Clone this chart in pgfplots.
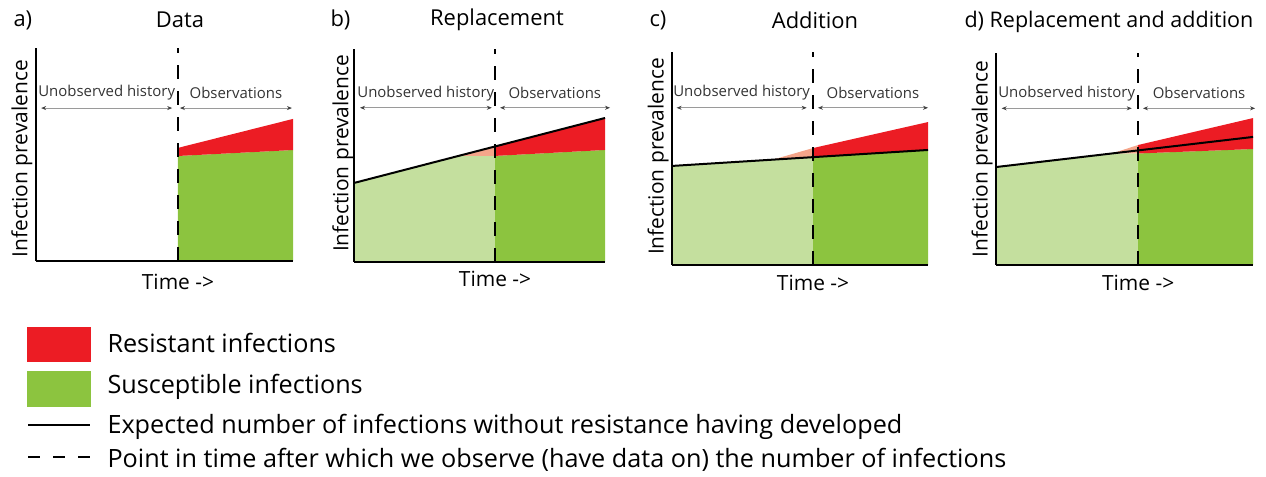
\documentclass[border=0pt]{standalone}
\usepackage{fontspec}
\setmainfont{Open Sans}
\usepackage{pgfplots}
\pgfplotsset{compat=1.18}
\usetikzlibrary{arrows.meta,calc}
\definecolor{resred}{HTML}{EC1C24}
\definecolor{susgreen}{HTML}{8CC43F}
\definecolor{lightgreen}{HTML}{C4DF9E}
\definecolor{salmon}{HTML}{F5A58A}
\definecolor{arrgray}{HTML}{9A9A9A}
\pgfplotsset{
  panel/.style={scale only axis, anchor=south west,
    axis x line=bottom, axis y line=left,
    xmin=0, xmax=100, ymin=0, ymax=100,
    xtick=\empty, ytick=\empty,
    axis line style={line width=2bp, -},
    clip=false, axis on top},
}
\tikzset{
  obsdash/.style={black, line width=2bp, dash pattern=on 14bp off 12bp},
  expline/.style={black, line width=2bp},
  histarrow/.style={arrgray, line width=0.8bp,
    {Stealth[length=5bp,width=4bp,black!75]}-{Stealth[length=5bp,width=4bp,black!75]}},
}
\newcommand{\lblfont}{\fontsize{15}{17}\selectfont}
\newcommand{\axfont}{\fontsize{21}{23}\selectfont}
\newcommand{\ttlfont}{\fontsize{22}{24}\selectfont}
\newcommand{\legfont}{\fontsize{25.3}{28}\selectfont}
\begin{document}
\begin{tikzpicture}[x=1bp,y=1bp]
\useasboundingbox (0,0) rectangle (1266,477);
% ---------- a) Data
\begin{axis}[panel, at={(36bp,216bp)}, width=257bp, height=213bp]
\addplot[fill=susgreen, draw=none] coordinates {(55.25,0)(55.25,49.3)(100,52.1)(100,0)} -- cycle;
\addplot[fill=resred, draw=none] coordinates {(55.25,49.3)(100,52.1)(100,66.7)(55.25,53.1)} -- cycle;
\addplot[obsdash] coordinates {(55.25,0)(55.25,100)};
\draw[histarrow] (axis cs:2,71.8) -- (axis cs:53,71.8);
\draw[histarrow] (axis cs:56,71.8) -- (axis cs:99.6,71.8);
\node[font=\lblfont, text=black!80] at (axis cs:27.5,78.9) {Unobserved history};
\node[font=\lblfont, text=black!80] at (axis cs:77.8,78.9) {Observations};
\node[font=\axfont, rotate=90] at ($(rel axis cs:0,0.48)+(-14bp,0)$) {Infection prevalence};
\node[font=\axfont] at ($(axis cs:55.25,0)+(0,-21bp)$) {Time ->};
\end{axis}
% ---------- b) Replacement
\begin{axis}[panel, at={(354bp,215bp)}, width=251bp, height=213bp]
\addplot[fill=lightgreen, draw=none] coordinates {(0,0)(0,37.1)(41.6,49.8)(56.2,49.8)(56.2,0)} -- cycle;
\addplot[fill=susgreen, draw=none] coordinates {(56.2,0)(56.2,49.8)(100,52.6)(100,0)} -- cycle;
\addplot[fill=salmon, draw=none] coordinates {(41.6,49.8)(56.2,54.2)(56.2,49.8)} -- cycle;
\addplot[fill=resred, draw=none] coordinates {(56.2,49.8)(100,52.6)(100,67.6)(56.2,54.2)} -- cycle;
\addplot[expline] coordinates {(0,37.1)(100,67.6)};
\addplot[obsdash] coordinates {(56.2,0)(56.2,100)};
\draw[histarrow] (axis cs:2.4,72.4) -- (axis cs:54.9,72.4);
\draw[histarrow] (axis cs:58.2,72.4) -- (axis cs:102,72.4);
\node[font=\lblfont, text=black!80] at (axis cs:28.6,79.2) {Unobserved history};
\node[font=\lblfont, text=black!80] at (axis cs:80,79.2) {Observations};
\node[font=\axfont, rotate=90] at ($(rel axis cs:0,0.51)+(-11bp,0)$) {Infection prevalence};
\node[font=\axfont] at ($(axis cs:56.2,0)+(0,-17bp)$) {Time ->};
\end{axis}
% ---------- c) Addition
\begin{axis}[panel, at={(672bp,212bp)}, width=256bp, height=213bp]
\addplot[fill=lightgreen, draw=none] coordinates {(0,0)(0,46.5)(55.1,50.6)(55.1,0)} -- cycle;
\addplot[fill=susgreen, draw=none] coordinates {(55.1,0)(55.1,50.6)(100,54.0)(100,0)} -- cycle;
\addplot[fill=salmon, draw=none] coordinates {(39.5,49.5)(55.1,54.9)(55.1,50.6)} -- cycle;
\addplot[fill=resred, draw=none] coordinates {(55.1,50.6)(100,54.0)(100,67.1)(55.1,54.9)} -- cycle;
\addplot[expline] coordinates {(0,46.5)(100,54.0)};
\addplot[obsdash] coordinates {(55.1,0)(55.1,100)};
\draw[histarrow] (axis cs:1.8,73.8) -- (axis cs:52.6,73.8);
\draw[histarrow] (axis cs:57,73.8) -- (axis cs:100,73.8);
\node[font=\lblfont, text=black!80] at (axis cs:27.2,80.8) {Unobserved history};
\node[font=\lblfont, text=black!80] at (axis cs:78.5,80.8) {Observations};
\node[font=\axfont, rotate=90] at ($(rel axis cs:0,0.51)+(-14bp,0)$) {Infection prevalence};
\node[font=\axfont] at ($(axis cs:55.1,0)+(0,-18bp)$) {Time ->};
\end{axis}
% ---------- d) Replacement and addition
\begin{axis}[panel, at={(996bp,212bp)}, width=257bp, height=212bp]
\addplot[fill=lightgreen, draw=none] coordinates {(0,0)(0,46.2)(45.1,52.6)(55.3,52.6)(55.3,0)} -- cycle;
\addplot[fill=susgreen, draw=none] coordinates {(55.3,0)(55.3,52.6)(100,54.7)(100,0)} -- cycle;
\addplot[fill=salmon, draw=none] coordinates {(45.1,52.6)(55.3,56.6)(55.3,52.6)} -- cycle;
\addplot[fill=resred, draw=none] coordinates {(55.3,52.6)(100,54.7)(100,69.3)(55.3,56.6)} -- cycle;
\addplot[expline] coordinates {(0,46.2)(100,60.4)};
\addplot[obsdash] coordinates {(55.3,0)(55.3,100)};
\draw[histarrow] (axis cs:2.2,73.9) -- (axis cs:52.8,73.9);
\draw[histarrow] (axis cs:57.2,73.9) -- (axis cs:100.8,73.9);
\node[font=\lblfont, text=black!80] at (axis cs:27.5,81) {Unobserved history};
\node[font=\lblfont, text=black!80] at (axis cs:79,81) {Observations};
\node[font=\axfont, rotate=90] at ($(rel axis cs:0,0.5)+(-14bp,0)$) {Infection prevalence};
\node[font=\axfont] at ($(axis cs:55.3,0)+(0,-18bp)$) {Time ->};
\end{axis}
% ---------- titles
\node[font=\ttlfont, anchor=west] at (10,457) {a)};
\node[font=\ttlfont] at (180,457) {Data};
\node[font=\ttlfont, anchor=west] at (327,457) {b)};
\node[font=\ttlfont] at (497,457) {Replacement};
\node[font=\ttlfont, anchor=west] at (646,457) {c)};
\node[font=\ttlfont] at (815,457) {Addition};
\node[font=\fontsize{21.6}{24}\selectfont, anchor=west] at (961,455) {d) Replacement and addition};
% ---------- legend
\fill[resred] (27,115) rectangle (91,150);
\fill[susgreen] (27,70) rectangle (91,106);
\draw[expline] (28,52) -- (90,52);
\draw[black, line width=2bp, dash pattern=on 12bp off 13bp] (28,20) -- (91,20);
\node[font=\legfont, anchor=west] at (104,134) {Resistant infections};
\node[font=\legfont, anchor=west] at (104,90) {Susceptible infections};
\node[font=\legfont, anchor=west] at (104,50) {Expected number of infections without resistance having developed};
\node[font=\legfont, anchor=west] at (104,17) {Point in time after which we observe (have data on) the number of infections};
\end{tikzpicture}
\end{document}
